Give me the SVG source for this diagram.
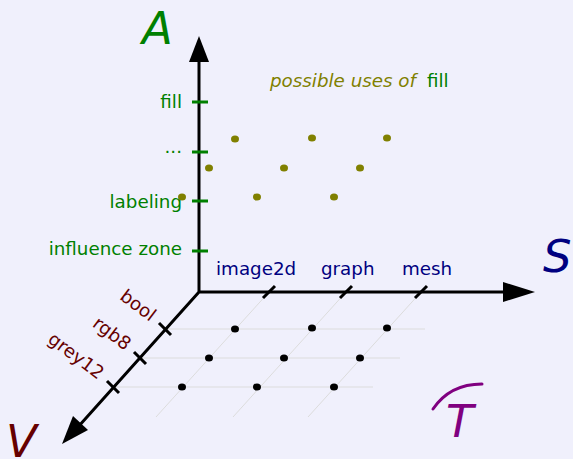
<svg xmlns="http://www.w3.org/2000/svg" width="573" height="459" viewBox="0 0 573 459">
<style>
text{font-family:"DejaVu Sans","Liberation Sans",sans-serif;font-size:18.3px}
.axis{stroke:#000;stroke-width:3;fill:none}
.grid{stroke:#dcdcdc;stroke-width:1;fill:none}
.gtick{stroke:#008000;stroke-width:3}
.btick{stroke:#000;stroke-width:3}
.big{font-size:45px;font-style:italic}
.g{fill:#008000}
.n{fill:#000080}
.m{fill:#660000}
.o{fill:#808000}
.dot{fill:#000}
.odot{fill:#808000}
</style>
<rect width="573" height="459" fill="#f0f0fc"/>
<g id="grid">
<path class="grid" d="M165,329H425M140,358H400M113,387H373M269,292L156,417M346,292L233,417M421,292L308,417"/>
</g>
<g id="connectors">
<path class="axis" d="M199,292V56M199,292H512M199,292L78,427"/>
<polygon points="199,36 189,62 209,62" fill="#000"/>
<polygon points="535,292 503,282 503,302" fill="#000"/>
<polygon points="62,444 73,416 88,430" fill="#000"/>
</g>
<g id="axis-A">
<text class="big g" x="142" y="44">A</text>
<path class="gtick" d="M192,102H208M192,152H208M192,201H208M192,251H208"/>
<text class="g" x="182" y="108" text-anchor="end">fill</text>
<text class="g" x="182" y="153" text-anchor="end">...</text>
<text class="g" x="182" y="208" text-anchor="end">labeling</text>
<text class="g" x="182" y="255" text-anchor="end">influence zone</text>
</g>
<g id="axis-S">
<text class="big n" x="543" y="272">S</text>
<path class="btick" d="M263,298L275,286M340,298L352,286M415,298L427,286"/>
<text class="n" x="216" y="275">image2d</text>
<text class="n" x="321" y="275">graph</text>
<text class="n" x="402" y="275">mesh</text>
</g>
<g id="axis-V">
<text class="big m" x="6" y="457">V</text>
<path class="btick" d="M159,323L171,335M134,352L146,364M107,381L119,393"/>
<text class="m" transform="translate(150,322) rotate(37)" text-anchor="end">bool</text>
<text class="m" transform="translate(125,351) rotate(37)" text-anchor="end">rgb8</text>
<text class="m" transform="translate(98,380) rotate(37)" text-anchor="end">grey12</text>
</g>
<g id="axis-T">
<path d="M433,409Q450,384 482,384" stroke="#800080" stroke-width="3" fill="none" stroke-linecap="round"/>
<text class="big" x="446" y="437" fill="#800080">T</text>
</g>
<g id="dots-base">
<ellipse class="dot" cx="235" cy="329" rx="4" ry="3.5"/>
<ellipse class="dot" cx="312" cy="328" rx="4" ry="3.5"/>
<ellipse class="dot" cx="387" cy="328" rx="4" ry="3.5"/>
<ellipse class="dot" cx="209" cy="358" rx="4" ry="3.5"/>
<ellipse class="dot" cx="284" cy="358" rx="4" ry="3.5"/>
<ellipse class="dot" cx="360" cy="358" rx="4" ry="3.5"/>
<ellipse class="dot" cx="182" cy="387" rx="4" ry="3.5"/>
<ellipse class="dot" cx="257" cy="387" rx="4" ry="3.5"/>
<ellipse class="dot" cx="334" cy="387" rx="4" ry="3.5"/>
</g>
<g id="dots-fill">
<text class="o" x="270" y="87" font-style="italic">possible uses of</text>
<text class="g" x="427" y="87">fill</text>
<ellipse class="odot" cx="235" cy="139" rx="4" ry="3.5"/>
<ellipse class="odot" cx="312" cy="138" rx="4" ry="3.5"/>
<ellipse class="odot" cx="387" cy="138" rx="4" ry="3.5"/>
<ellipse class="odot" cx="209" cy="168" rx="4" ry="3.5"/>
<ellipse class="odot" cx="284" cy="168" rx="4" ry="3.5"/>
<ellipse class="odot" cx="360" cy="168" rx="4" ry="3.5"/>
<ellipse class="odot" cx="182" cy="197" rx="4" ry="3.5"/>
<ellipse class="odot" cx="257" cy="197" rx="4" ry="3.5"/>
<ellipse class="odot" cx="334" cy="197" rx="4" ry="3.5"/>
</g>
</svg>
